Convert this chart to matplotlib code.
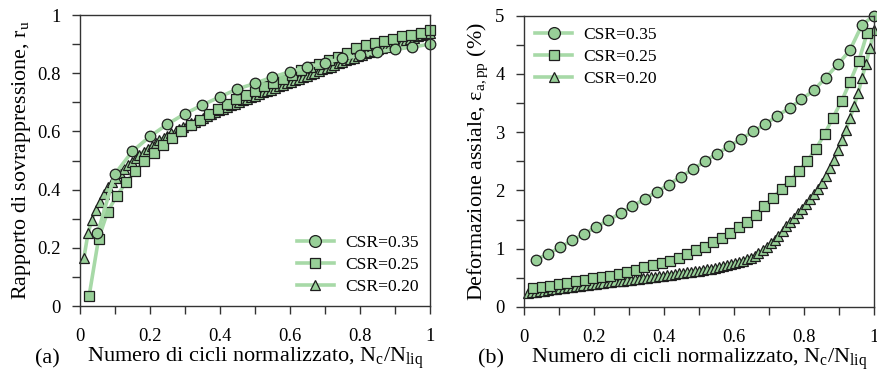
import numpy as np
import matplotlib
matplotlib.use("Agg")
import matplotlib.pyplot as plt
from matplotlib.ticker import MultipleLocator, FuncFormatter

plt.rcParams['font.family'] = ['Liberation Serif', 'DejaVu Serif']
plt.rcParams['mathtext.fontset'] = 'custom'
plt.rcParams['mathtext.rm'] = 'Liberation Serif'
plt.rcParams['mathtext.it'] = 'Liberation Serif:italic'

# ---- panel (a): pore pressure ratio ----
xa_035 = [0.05, 0.10, 0.15, 0.20, 0.25, 0.30, 0.35, 0.40, 0.45, 0.50,
          0.55, 0.60, 0.65, 0.70, 0.75, 0.80, 0.85, 0.90, 0.95, 1.00]
ra_035 = [0.250, 0.454, 0.532, 0.583, 0.625, 0.661, 0.691, 0.719, 0.746, 0.765,
          0.787, 0.805, 0.822, 0.836, 0.851, 0.861, 0.873, 0.882, 0.890, 0.900]

xa_025 = [0.026, 0.053, 0.079, 0.105, 0.132, 0.158, 0.184, 0.211, 0.237, 0.263,
          0.289, 0.316, 0.342, 0.368, 0.395, 0.421, 0.447, 0.474, 0.500, 0.526,
          0.553, 0.579, 0.605, 0.632, 0.658, 0.684, 0.711, 0.737, 0.763, 0.789,
          0.816, 0.842, 0.868, 0.895, 0.921, 0.947, 0.974, 1.000]
ra_025 = [0.034, 0.231, 0.324, 0.379, 0.425, 0.465, 0.498, 0.527, 0.553, 0.577,
          0.600, 0.622, 0.641, 0.660, 0.676, 0.693, 0.710, 0.724, 0.738, 0.755,
          0.766, 0.780, 0.795, 0.812, 0.821, 0.832, 0.845, 0.857, 0.869, 0.888,
          0.897, 0.903, 0.911, 0.919, 0.927, 0.933, 0.940, 0.948]

x_020 = [0.011, 0.023, 0.034, 0.045, 0.057, 0.068, 0.080, 0.091, 0.102, 0.114,
         0.125, 0.136, 0.148, 0.159, 0.170, 0.182, 0.193, 0.205, 0.216, 0.227,
         0.239, 0.250, 0.261, 0.273, 0.284, 0.295, 0.307, 0.318, 0.330, 0.341,
         0.352, 0.364, 0.375, 0.386, 0.398, 0.409, 0.420, 0.432, 0.443, 0.455,
         0.466, 0.477, 0.489, 0.500, 0.511, 0.523, 0.534, 0.545, 0.557, 0.568,
         0.580, 0.591, 0.602, 0.614, 0.625, 0.636, 0.648, 0.659, 0.670, 0.682,
         0.693, 0.705, 0.716, 0.727, 0.739, 0.750, 0.761, 0.773, 0.784, 0.795,
         0.807, 0.818, 0.830, 0.841, 0.852, 0.864, 0.875, 0.886, 0.898, 0.909,
         0.920, 0.932, 0.943, 0.955, 0.966, 0.977, 0.989, 1.000]
ra_020 = [0.164, 0.250, 0.297, 0.330, 0.358, 0.384, 0.408, 0.425, 0.441, 0.456,
          0.470, 0.483, 0.496, 0.508, 0.520, 0.531, 0.541, 0.551, 0.560, 0.569,
          0.578, 0.586, 0.593, 0.600, 0.607, 0.614, 0.621, 0.628, 0.634, 0.641,
          0.647, 0.654, 0.660, 0.666, 0.672, 0.678, 0.684, 0.690, 0.696, 0.702,
          0.707, 0.712, 0.718, 0.723, 0.728, 0.734, 0.739, 0.744, 0.750, 0.755,
          0.760, 0.765, 0.771, 0.776, 0.781, 0.786, 0.792, 0.797, 0.802, 0.807,
          0.813, 0.818, 0.823, 0.828, 0.834, 0.839, 0.844, 0.849, 0.854, 0.859,
          0.864, 0.869, 0.873, 0.878, 0.882, 0.887, 0.891, 0.896, 0.900, 0.904,
          0.909, 0.913, 0.918, 0.922, 0.927, 0.931, 0.936, 0.940]

# ---- panel (b): axial strain ----
xb_035 = [0.034, 0.069, 0.103, 0.138, 0.172, 0.207, 0.241, 0.276, 0.310, 0.345,
          0.379, 0.414, 0.448, 0.483, 0.517, 0.552, 0.586, 0.621, 0.655, 0.690,
          0.724, 0.759, 0.793, 0.828, 0.862, 0.897, 0.931, 0.966, 1.000]
eb_035 = [0.807, 0.910, 1.020, 1.144, 1.253, 1.373, 1.487, 1.608, 1.728, 1.854,
          1.974, 2.100, 2.237, 2.363, 2.500, 2.632, 2.757, 2.883, 3.015, 3.135,
          3.284, 3.415, 3.564, 3.719, 3.936, 4.165, 4.405, 4.846, 5.000]

xb_025 = [0.026, 0.050, 0.075, 0.099, 0.124, 0.148, 0.173, 0.197, 0.222, 0.246,
          0.271, 0.295, 0.320, 0.344, 0.369, 0.393, 0.418, 0.442, 0.467, 0.491,
          0.516, 0.540, 0.565, 0.589, 0.614, 0.638, 0.663, 0.687, 0.712, 0.736,
          0.761, 0.785, 0.810, 0.834, 0.859, 0.883, 0.908, 0.932, 0.957, 0.981]
eb_025 = [0.32, 0.34, 0.365, 0.39, 0.415, 0.44, 0.463, 0.487, 0.51, 0.537,
          0.567, 0.597, 0.635, 0.678, 0.715, 0.752, 0.795, 0.845, 0.90, 0.975,
          1.035, 1.11, 1.18, 1.265, 1.37, 1.46, 1.58, 1.74, 1.87, 2.03,
          2.17, 2.33, 2.51, 2.71, 2.97, 3.25, 3.54, 3.87, 4.23, 4.71]

eb_020 = [0.245, 0.254, 0.263, 0.272, 0.280, 0.289, 0.298, 0.307, 0.315, 0.324,
          0.333, 0.341, 0.350, 0.358, 0.367, 0.376, 0.384, 0.393, 0.401, 0.410,
          0.418, 0.427, 0.435, 0.444, 0.452, 0.461, 0.469, 0.478, 0.486, 0.495,
          0.503, 0.512, 0.520, 0.529, 0.537, 0.546, 0.555, 0.564, 0.573, 0.582,
          0.592, 0.602, 0.612, 0.622, 0.633, 0.645, 0.657, 0.670, 0.684, 0.699,
          0.715, 0.732, 0.750, 0.770, 0.791, 0.814, 0.845, 0.880, 0.920, 0.970,
          1.030, 1.090, 1.150, 1.220, 1.300, 1.380, 1.450, 1.530, 1.610, 1.680,
          1.760, 1.850, 1.940, 2.030, 2.130, 2.250, 2.380, 2.520, 2.690, 2.860,
          3.040, 3.240, 3.450, 3.680, 3.930, 4.180, 4.450, 4.750]

labels = ['CSR=0.35', 'CSR=0.25', 'CSR=0.20']
line_c = '#a7d9a7'
face_c = '#98d098'
edge_c = '#1e1e1e'


def fmt(v, pos):
    return '%g' % v


def style(ax, ymax, ymaj, ymin):
    ax.set_xlim(0, 1)
    ax.set_ylim(0, ymax)
    ax.xaxis.set_major_locator(MultipleLocator(0.2))
    ax.xaxis.set_minor_locator(MultipleLocator(0.1))
    ax.yaxis.set_major_locator(MultipleLocator(ymaj))
    ax.yaxis.set_minor_locator(MultipleLocator(ymin))
    ax.xaxis.set_major_formatter(FuncFormatter(fmt))
    ax.yaxis.set_major_formatter(FuncFormatter(fmt))
    ax.tick_params(which='both', direction='out', length=6, width=1,
                   color='#333333', labelsize=13.4)
    ax.tick_params(axis='x', pad=10)
    ax.tick_params(axis='y', pad=8)
    ax.tick_params(which='both', top=False, right=False)
    for s in ax.spines.values():
        s.set_color('#333333')
        s.set_linewidth(1.0)


def draw(ax, xs, ys, mk, ms, lab):
    ax.plot(xs, ys, '-', color=line_c, lw=2.6, marker=mk, ms=ms,
            mfc=face_c, mec=edge_c, mew=0.9, clip_on=False, label=lab)


def legend(ax, loc):
    h, l = ax.get_legend_handles_labels()
    ax.legend(h[::-1], l[::-1], loc=loc, frameon=False, fontsize=12.6,
              handlelength=2.1, markerscale=1.12, labelspacing=0.33,
              borderaxespad=0.25, handletextpad=0.65)


fig = plt.figure(figsize=(8.77, 3.76), dpi=100)
ax1 = fig.add_axes([0.0912, 0.186, 0.399, 0.774])
ax2 = fig.add_axes([0.5975, 0.184, 0.399, 0.774])

xlab = 'Numero di cicli normalizzato, N$_\\mathrm{c}$/N$_\\mathrm{liq}$'

draw(ax1, x_020, ra_020, '^', 6.5, labels[2])
draw(ax1, xa_025, ra_025, 's', 6.6, labels[1])
draw(ax1, xa_035, ra_035, 'o', 7.6, labels[0])
style(ax1, 1, 0.2, 0.1)
ax1.set_ylabel('Rapporto di sovrappressione, r$_\\mathrm{u}$', fontsize=15.8, labelpad=3)
ax1.set_xlabel(xlab, fontsize=16, labelpad=0)
legend(ax1, 'lower right')
fig.text(0.04, 0.033, '(a)', fontsize=16)

draw(ax2, x_020, eb_020, '^', 6.5, labels[2])
draw(ax2, xb_025, eb_025, 's', 6.6, labels[1])
draw(ax2, xb_035, eb_035, 'o', 7.6, labels[0])
style(ax2, 5, 1, 0.5)
ax2.set_ylabel('Deformazione assiale, ε$_\\mathrm{a,pp}$ (%)', fontsize=15.8, labelpad=4)
ax2.set_xlabel(xlab, fontsize=16, labelpad=0)
legend(ax2, 'upper left')
fig.text(0.545, 0.033, '(b)', fontsize=16)

fig.savefig('out.png', dpi=100)
